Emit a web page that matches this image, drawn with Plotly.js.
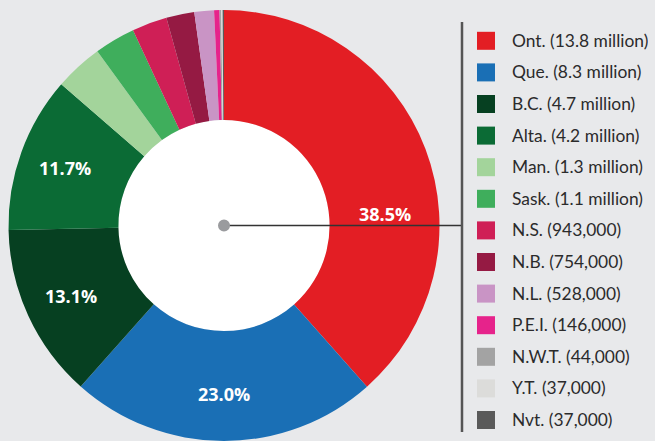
<!DOCTYPE html>
<html>
<head>
<meta charset="utf-8">
<script src="https://cdn.plot.ly/plotly-3.0.1.min.js"></script>
<style>
  html, body { margin: 0; padding: 0; background: #e8e9eb; }
  #chart { width: 655px; height: 441px; }
</style>
</head>
<body>
<div id="chart"></div>
<script>
// ---- data ----
const provinces = ['Ont.', 'Que.', 'B.C.', 'Alta.', 'Man.', 'Sask.', 'N.S.', 'N.B.', 'N.L.', 'P.E.I.', 'N.W.T.', 'Y.T.', 'Nvt.'];
const populationText = ['13.8 million', '8.3 million', '4.7 million', '4.2 million', '1.3 million', '1.1 million', '943,000', '754,000', '528,000', '146,000', '44,000', '37,000', '37,000'];
const population = [13800000, 8300000, 4700000, 4200000, 1300000, 1100000, 943000, 754000, 528000, 146000, 44000, 37000, 37000];
const shareLabels = ['38.5%', '23.0%', '13.1%', '11.7%', '', '', '', '', '', '', '', '', ''];
const sliceColors = ['#e31e24', '#1a6fb5', '#064021', '#0b6b35', '#a3d49b', '#3fae5c', '#cf1f56', '#951a43', '#c994c5', '#e6238b', '#a3a3a3', '#dcdcda', '#5a5a5a'];

// ---- figure ----
const W = 655, H = 441;
const legendLabels = provinces.map((p, i) => '<span style="font-size:17.4px">' + p + ' (' + populationText[i] + ')</span>');

const cx = 224, cy = 225.5, R = 215.5, holeFrac = 0.49;
const px = v => v / W, py = v => 1 - v / H;
const rHole = R * holeFrac;

const trace = {
  type: 'pie',
  labels: legendLabels,
  values: population,
  textinfo: 'none',
  sort: false,
  direction: 'clockwise',
  rotation: 0,
  hole: holeFrac,
  marker: { colors: sliceColors, line: { width: 0 } },
  hoverinfo: 'skip',
  domain: { x: [(cx - R) / W, (cx + R) / W], y: [1 - (cy + R) / H, 1 - (cy - R) / H] }
};

// percentage labels placed along each slice's bisector (first one sits on the leader line)
const total = population.reduce((a, b) => a + b, 0);
const labelFont = { family: 'Open Sans', size: 18, color: '#ffffff', weight: 'bold' };
const annotations = [];
let cum = 0;
population.forEach((v, i) => {
  const mid = (cum + v / 2) / total * 2 * Math.PI;
  cum += v;
  if (!shareLabels[i]) return;
  let x, y;
  if (i === 0) { x = 385; y = 214; }
  else { const rl = 169; x = cx + rl * Math.sin(mid); y = cy - rl * Math.cos(mid); }
  annotations.push({ xref: 'paper', yref: 'paper', x: px(x), y: py(y), showarrow: false,
    xanchor: 'center', yanchor: 'middle', text: shareLabels[i], font: labelFont });
});

const layout = {
  width: W, height: H,
  margin: { l: 0, r: 0, t: 0, b: 0 },
  paper_bgcolor: '#e8e9eb',
  plot_bgcolor: '#e8e9eb',
  showlegend: true,
  legend: {
    x: px(466), xanchor: 'left',
    y: py(24), yanchor: 'top',
    font: { family: 'Lato', size: 22, color: '#2b2b2b' },
    bgcolor: 'rgba(0,0,0,0)',
    borderwidth: 0,
    traceorder: 'normal'
  },
  shapes: [
    { type: 'circle', xref: 'paper', yref: 'paper', layer: 'below',
      x0: px(cx - rHole), x1: px(cx + rHole), y0: py(cy + rHole), y1: py(cy - rHole),
      fillcolor: '#ffffff', line: { width: 0 } },
    { type: 'line', xref: 'paper', yref: 'paper', layer: 'above',
      x0: px(cx), x1: px(462), y0: py(cy), y1: py(cy),
      line: { color: '#333333', width: 1.5 } },
    { type: 'line', xref: 'paper', yref: 'paper', layer: 'above',
      x0: px(462), x1: px(462), y0: py(22), y1: py(432),
      line: { color: '#555555', width: 2.5 } },
    { type: 'circle', xref: 'paper', yref: 'paper', layer: 'above',
      x0: px(cx - 6), x1: px(cx + 6), y0: py(cy + 6), y1: py(cy - 6),
      fillcolor: '#9a9b9e', line: { width: 0 } }
  ],
  annotations: annotations
};

function tweakLegend() {
  const gd = document.getElementById('chart');
  gd.querySelectorAll('.legend path.legendpie').forEach(p => p.setAttribute('d', 'M9,9H-9V-9H9Z'));
  gd.querySelectorAll('.legend text.legendtext').forEach(t => {
    if (!t.dataset.shifted) {
      const y = parseFloat(t.getAttribute('y') || '0');
      const x = parseFloat(t.getAttribute('x') || '0');
      t.setAttribute('y', (y - 2.5).toString());
      t.setAttribute('x', (x + 6).toString());
      t.dataset.shifted = '1';
    }
  });
}

Plotly.newPlot('chart', [trace], layout, { displayModeBar: false, staticPlot: true }).then(gd => {
  tweakLegend();
  gd.on('plotly_afterplot', tweakLegend);
});
</script>
</body>
</html>
